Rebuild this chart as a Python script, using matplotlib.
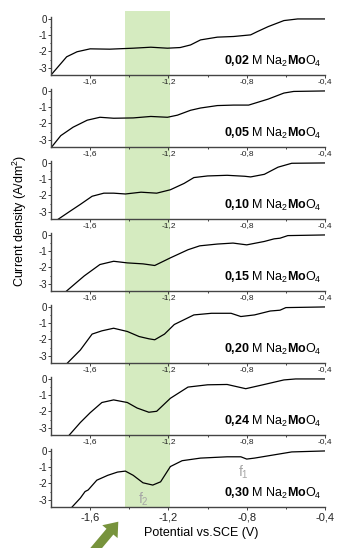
import matplotlib
matplotlib.use("Agg")
import matplotlib.pyplot as plt
from matplotlib.patches import Rectangle, FancyArrow
from matplotlib.transforms import blended_transform_factory
from matplotlib.ticker import FixedLocator, FuncFormatter

plt.rcParams['font.family'] = ['Liberation Sans', 'DejaVu Sans']
plt.rcParams['mathtext.fontset'] = 'custom'
plt.rcParams['mathtext.rm'] = 'Liberation Sans'
plt.rcParams['mathtext.it'] = 'Liberation Sans:italic'
plt.rcParams['mathtext.bf'] = 'Liberation Sans:bold'
plt.rcParams['axes.unicode_minus'] = False

# concentrations of Na2MoO4 (one panel each, top to bottom)
conc = ['0{,}02', '0{,}05', '0{,}10', '0{,}15', '0{,}20', '0{,}24', '0{,}30']

# curves: potential (V vs SCE) and current density (A/dm2)
x1 = [-1.80, -1.72, -1.667, -1.60, -1.50, -1.38, -1.29, -1.205, -1.14, -1.087, -1.036, -0.95, -0.867, -0.78, -0.746, -0.69, -0.61, -0.54, -0.40]
y1 = [-3.45, -2.33, -2.02, -1.84, -1.86, -1.80, -1.74, -1.80, -1.76, -1.60, -1.29, -1.12, -1.08, -0.98, -0.78, -0.47, -0.10, 0.0, 0.0]

x2 = [-1.80, -1.75, -1.687, -1.615, -1.55, -1.48, -1.38, -1.29, -1.205, -1.154, -1.087, -1.036, -0.95, -0.867, -0.79, -0.744, -0.69, -0.61, -0.56, -0.40]
y2 = [-3.50, -2.75, -2.23, -1.80, -1.62, -1.68, -1.66, -1.57, -1.62, -1.49, -1.19, -1.05, -0.90, -0.87, -0.87, -0.70, -0.50, -0.13, -0.03, 0.0]

x3 = [-1.78, -1.70, -1.65, -1.59, -1.53, -1.48, -1.42, -1.34, -1.26, -1.19, -1.12, -1.07, -1.00, -0.90, -0.81, -0.78, -0.71, -0.64, -0.57, -0.40]
y3 = [-3.60, -2.95, -2.55, -2.05, -1.86, -1.86, -1.91, -1.80, -1.86, -1.65, -1.26, -0.90, -0.80, -0.76, -0.82, -0.86, -0.70, -0.26, -0.02, 0.0]

x4 = [-1.73, -1.67, -1.63, -1.55, -1.48, -1.41, -1.33, -1.27, -1.19, -1.10, -1.04, -0.95, -0.87, -0.80, -0.71, -0.66, -0.63, -0.59, -0.40]
y4 = [-3.55, -2.93, -2.52, -1.82, -1.62, -1.72, -1.78, -1.88, -1.41, -0.91, -0.67, -0.56, -0.50, -0.61, -0.40, -0.24, -0.20, -0.04, 0.0]

x5 = [-1.72, -1.65, -1.59, -1.54, -1.48, -1.41, -1.35, -1.30, -1.27, -1.22, -1.17, -1.07, -0.98, -0.88, -0.83, -0.76, -0.68, -0.63, -0.60, -0.40]
y5 = [-3.50, -2.65, -1.67, -1.47, -1.31, -1.51, -1.82, -1.96, -2.02, -1.67, -1.08, -0.49, -0.39, -0.39, -0.59, -0.49, -0.25, -0.20, -0.04, 0.0]

x6 = [-1.71, -1.65, -1.60, -1.54, -1.48, -1.41, -1.36, -1.30, -1.26, -1.19, -1.10, -1.00, -0.90, -0.805, -0.71, -0.61, -0.55, -0.40]
y6 = [-3.50, -2.68, -2.08, -1.45, -1.29, -1.45, -1.79, -2.05, -1.99, -1.19, -0.50, -0.36, -0.34, -0.60, -0.34, -0.06, 0.0, 0.0]

x7 = [-1.70, -1.65, -1.626, -1.61, -1.566, -1.51, -1.46, -1.42, -1.38, -1.33, -1.28, -1.24, -1.19, -1.13, -1.036, -0.90, -0.83, -0.80, -0.76, -0.64, -0.57, -0.40]
y7 = [-3.55, -2.90, -2.50, -2.40, -1.80, -1.50, -1.30, -1.24, -1.50, -1.96, -2.10, -1.90, -0.96, -0.60, -0.44, -0.36, -0.36, -0.50, -0.44, -0.20, -0.06, 0.0]

curves = [(x1, y1), (x2, y2), (x3, y3), (x4, y4), (x5, y5), (x6, y6), (x7, y7)]

xticks = [-1.6, -1.2, -0.8, -0.4]
yticks = [0, -1, -2, -3]
band = (-1.42, -1.19)   # highlighted potential window

W, H = 337, 548
fig = plt.figure(figsize=(W / 100, H / 100), dpi=100)

comma = FuncFormatter(lambda v, p: ('%.1f' % v).replace('.', ','))
left, right = 51, 325
axes = []
for k, (xs, ys) in enumerate(curves):
    top = 17 + 72 * k
    bot = 75 + 72 * k
    ax = fig.add_axes([left / W, 1 - bot / H, (right - left) / W, (bot - top) / H])
    ax.patch.set_alpha(0)
    ax.plot(xs, ys, color='black', lw=0.9)
    ax.set_xlim(-1.8, -0.4)
    ax.set_ylim(-3.45, 0.12)
    for s in ['top', 'right']:
        ax.spines[s].set_visible(False)
    for s in ['left', 'bottom']:
        ax.spines[s].set_color('#444444')
        ax.spines[s].set_linewidth(1.0)
    ax.set_xticks(xticks)
    ax.xaxis.set_minor_locator(FixedLocator([-1.4, -1.0, -0.6]))
    ax.xaxis.set_major_formatter(comma)
    ax.set_yticks(yticks)
    ax.yaxis.set_minor_locator(FixedLocator([-0.5, -1.5, -2.5]))
    ax.tick_params(axis='y', which='both', direction='out', length=2, width=0.6,
                   labelsize=7, pad=1, colors='#222222')
    ax.tick_params(axis='y', which='minor', length=1)
    if k < len(curves) - 1:
        ax.tick_params(axis='x', which='both', direction='out', length=2, width=0.6,
                       labelsize=6, pad=0.5, colors='#222222')
    else:
        ax.tick_params(axis='x', which='both', direction='out', length=2.5, width=0.6,
                       labelsize=8, pad=1.5, colors='#222222')
    ax.tick_params(axis='x', which='minor', length=1.5)
    ax.text(-0.42, -2.6, r"$\mathbf{%s}$ M Na$_2$$\mathbf{Mo}$O$_4$" % conc[k],
            ha='right', va='center', fontsize=9)
    axes.append(ax)

# green band across all panels
bt = blended_transform_factory(axes[-1].transData, fig.transFigure)
fig.add_artist(Rectangle((band[0], 1 - 507 / H), band[1] - band[0], (507 - 11) / H,
                         transform=bt, facecolor='#d5ebc0', edgecolor='none', zorder=-5))

# peak labels
axes[-1].text(-0.815, -1.3, 'f$_1$', color='#a6a6a6', fontsize=10, ha='center', va='center')
axes[-1].text(-1.33, -3.0, 'f$_2$', color='#a6a6a6', fontsize=10, ha='center', va='center')

fig.text(201 / W, 1 - 533 / H, 'Potential vs.SCE (V)', ha='center', va='center', fontsize=9)
fig.text(20 / W, 1 - 221 / H, 'Current density (A/dm$^2$)', ha='center', va='center',
         rotation=90, fontsize=9)

# arrow pointing at the band
fig.add_artist(FancyArrow(0.92, -0.05, 0.263, 0.313, width=0.09, head_width=0.2,
                          head_length=0.13, length_includes_head=True,
                          transform=fig.dpi_scale_trans, color='#77933c', lw=0))

fig.savefig('out.png', dpi=100)
